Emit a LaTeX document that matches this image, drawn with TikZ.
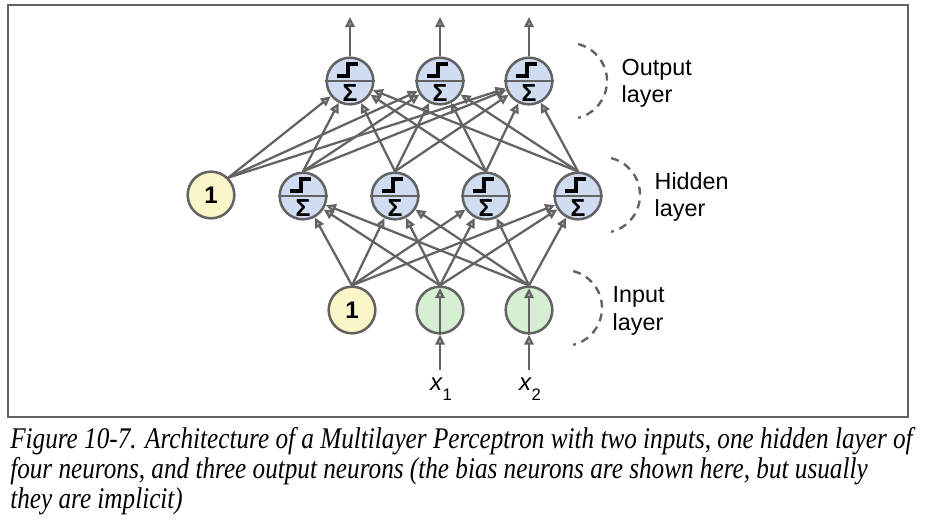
\documentclass[tikz,border=0pt]{standalone}
\usepackage{fontspec}
\setmainfont{Liberation Sans}
\newfontfamily\captionfont{Liberation Serif}[FakeStretch=0.84]
\usepackage{xcolor}
\usetikzlibrary{arrows.meta}
\definecolor{neuron_blue}{HTML}{CFDCF2}
\definecolor{bias_yellow}{HTML}{FBF6C8}
\definecolor{input_green}{HTML}{D6EFD3}
\definecolor{gray3}{HTML}{636363}
\definecolor{tip_gray}{HTML}{BEBEBE}

\begin{document}
\begin{tikzpicture}[x=0.75pt, y=-0.75pt,
    edge/.style={draw=gray3, line width=1.7pt, -{Triangle[length=7.5pt, width=7pt, fill=tip_gray]}},
    neuron/.style={circle, draw=gray3, line width=1.9pt, minimum size=35pt, inner sep=0pt},
    activation/.style={neuron, fill=neuron_blue, font=\bfseries\fontsize{18.5}{18}\selectfont,
      text height=30pt, text depth=0pt},
    bias/.style={neuron, fill=bias_yellow, font=\bfseries\fontsize{18}{18}\selectfont},
    passthrough/.style={neuron, fill=input_green},
    divider/.style={gray3, line width=1.6pt},
    step_glyph/.style={black, line width=3pt},
    layer_brace/.style={gray3, line width=1.8pt, dash pattern=on 6pt off 4.5pt},
    layer_label/.style={anchor=west, align=left, font=\fontsize{17.5}{20.5}\selectfont},
    caption_line/.style={anchor=base west, inner sep=0pt, font=\captionfont\itshape\fontsize{22.5}{24}\selectfont}]
    \useasboundingbox (0,0) rectangle (927,529);
    \draw[gray3, line width=1.2pt] (8,5) rectangle (908,417);

    % Input layer
    \node[bias] (b0) at (352,310) {1};
    \node[passthrough] (x1) at (440,310) {};
    \node[passthrough] (x2) at (529,310) {};

    % Hidden layer
    \node[bias] (b1) at (211,195) {1};
    \node[activation] (h1) at (303,196) {Σ};
    \node[activation] (h2) at (395,196) {Σ};
    \node[activation] (h3) at (486,196) {Σ};
    \node[activation] (h4) at (578,196) {Σ};

    % Output layer
    \node[activation] (o1) at (350,81) {Σ};
    \node[activation] (o2) at (440,81) {Σ};
    \node[activation] (o3) at (529,81) {Σ};

    % Step function above the sum
    \foreach \n in {h1,h2,h3,h4,o1,o2,o3} {
      \draw[divider] (\n.west) -- (\n.east);
      \draw[step_glyph] ([shift={(-10pt,3.75pt)}]\n.center) -- ++(8.5pt,0pt) -- ++(0pt,9pt) -- ++(7.5pt,0pt);
    }

    % Connections
    \foreach \s in {b0,x1,x2}
      \foreach \t in {h1,h2,h3,h4}
        \draw[edge] (\s.north) -- (\t);
    \foreach \s in {h1,h2,h3,h4}
      \foreach \t in {o1,o2,o3}
        \draw[edge] (\s.north) -- (\t);
    \foreach \t in {o1,o2,o3}
      \draw[edge] (b1.north east) -- (\t);

    % Inputs and outputs
    \coordinate (x1_in) at (440,370);
    \coordinate (x2_in) at (529,370);
    \draw[edge] (x1_in) -- (x1.south);
    \draw[edge, shorten >=2pt] (x1.south) -- (x1.north);
    \draw[edge] (x2_in) -- (x2.south);
    \draw[edge, shorten >=2pt] (x2.south) -- (x2.north);
    \node[font=\fontsize{18}{20}\selectfont] (x1_label) at (441,389) {\textit{x}\raisebox{-7pt}{\fontsize{12.5}{12}\selectfont 1}};
    \node[font=\fontsize{18}{20}\selectfont] (x2_label) at (530,389) {\textit{x}\raisebox{-7pt}{\fontsize{12.5}{12}\selectfont 2}};
    \coordinate (o1_out) at (350,17);
    \coordinate (o2_out) at (440,17);
    \coordinate (o3_out) at (529,17);
    \draw[edge] (o1) -- (o1_out);
    \draw[edge] (o2) -- (o2_out);
    \draw[edge] (o3) -- (o3_out);

    % Layer labels
    \draw[layer_brace] (569,81) ++(76:28.5pt) arc[start angle=76, end angle=-76, radius=28.5pt];
    \node[layer_label] (out_label) at (617,83) {Output\\layer};
    \draw[layer_brace] (602,195) ++(76:28.5pt) arc[start angle=76, end angle=-76, radius=28.5pt];
    \node[layer_label] (hid_label) at (650,197) {Hidden\\layer};
    \draw[layer_brace] (564,308) ++(76:28.5pt) arc[start angle=76, end angle=-76, radius=28.5pt];
    \node[layer_label] (in_label) at (608,311) {Input\\layer};

    % Caption
    \node[caption_line] (cap1) at (10,448) {Figure 10-7. Architecture of a Multilayer Perceptron with two inputs, one hidden layer of};
    \node[caption_line] (cap2) at (10,478) {four neurons, and three output neurons (the bias neurons are shown here, but usually};
    \node[caption_line] (cap3) at (10,508) {they are implicit)};
\end{tikzpicture}
\end{document}
